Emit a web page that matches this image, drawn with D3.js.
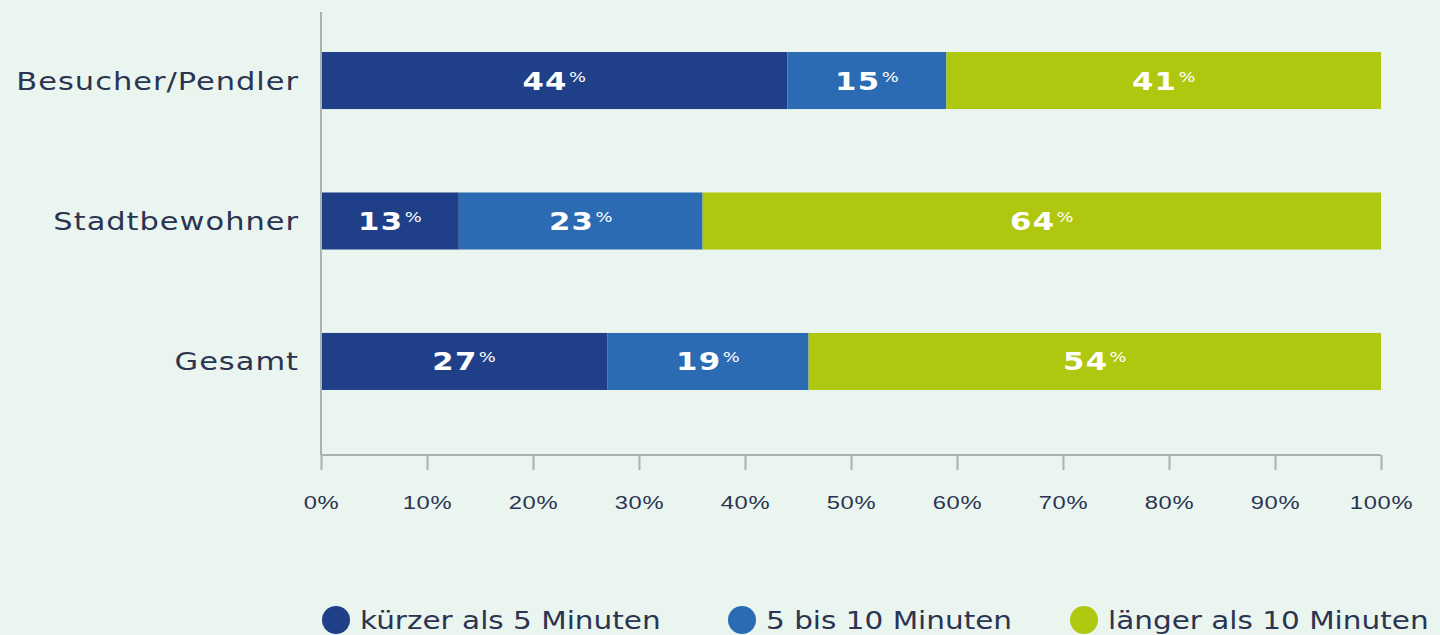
<!DOCTYPE html>
<html>
<head>
<meta charset="utf-8">
<script src="https://cdn.jsdelivr.net/npm/d3@7"></script>
<style>
  body { margin: 0; background: #eaf5ef; }
  svg { display: block; font-family: "DejaVu Sans", sans-serif; }
</style>
</head>
<body>
<div id="chart"></div>
<script>
// categories and series (share in %)
const categories = ['Besucher/Pendler', 'Stadtbewohner', 'Gesamt'];
const seriesNames = ['kürzer als 5 Minuten', '5 bis 10 Minuten', 'länger als 10 Minuten'];
const shortValues = [44, 13, 27];
const midValues = [15, 23, 19];
const longValues = [41, 64, 54];
const xTicks = [0, 10, 20, 30, 40, 50, 60, 70, 80, 90, 100];
const colors = ['#1f3f88', '#2a6bb3', '#afc70f'];

const width = 1440, height = 635;
const textColor = '#2b3450';
const wide = 1.22; // the original font is a wide geometric face

const svg = d3.select('#chart').append('svg')
  .attr('width', width)
  .attr('height', height);

const x = d3.scaleLinear().domain([0, 100]).range([321, 1381]);
const y = d3.scaleBand().domain(categories).range([12, 430])
  .paddingInner(0.594).paddingOuter(0.285);

const rows = categories.map((c, i) => ({cat: c, values: [shortValues[i], midValues[i], longValues[i]]}));
const stack = d3.stack().keys([0, 1, 2]).value((d, k) => d.values[k]);
const layers = stack(rows);

// bars
layers.forEach((layer, k) => {
  svg.append('g').selectAll('rect')
    .data(layer)
    .join('rect')
    .attr('x', d => x(d[0]))
    .attr('y', d => y(d.data.cat))
    .attr('width', d => x(d[1]) - x(d[0]))
    .attr('height', y.bandwidth())
    .attr('fill', colors[k]);

  const lbl = svg.append('g').selectAll('text')
    .data(layer)
    .join('text')
    .attr('transform', d => `translate(${(x(d[0]) + x(d[1])) / 2},${y(d.data.cat) + y.bandwidth() / 2 + 9}) scale(1.28,1)`)
    .attr('text-anchor', 'middle')
    .attr('fill', '#fff')
    .style('font-weight', 'bold')
    .style('font-size', '24px')
    .style('letter-spacing', '1px');
  lbl.append('tspan').text(d => d.data.values[k]);
  lbl.append('tspan').attr('dx', 1).attr('dy', -8).style('font-size', '14px')
    .style('letter-spacing', '0px').style('font-weight', 'normal').text('%');
});

// axes
svg.append('line')
  .attr('x1', 321).attr('x2', 321).attr('y1', 12).attr('y2', 455)
  .attr('stroke', '#a9b3ae').attr('stroke-width', 2);

const xAxis = svg.append('g')
  .attr('transform', 'translate(0,455)')
  .call(d3.axisBottom(x).tickValues(xTicks).tickSize(15).tickFormat(d => d + '%'));
xAxis.select('.domain').attr('stroke', '#a9b3ae').attr('stroke-width', 2).attr('d', `M${x(0)},0H${x(100)}`);
xAxis.selectAll('.tick line').attr('stroke', '#a9b3ae').attr('stroke-width', 2);
xAxis.selectAll('.tick text')
  .attr('y', null).attr('dy', null)
  .attr('transform', 'translate(0,54) scale(1.32,1)')
  .attr('fill', textColor)
  .style('font-size', '18px')
  .style('letter-spacing', '0.5px');

// category labels
svg.append('g').selectAll('text')
  .data(categories)
  .join('text')
  .attr('transform', d => `translate(299,${y(d) + y.bandwidth() / 2 + 9}) scale(${wide},1)`)
  .attr('text-anchor', 'end')
  .attr('fill', textColor)
  .style('font-size', '25px')
  .style('letter-spacing', '0.8px')
  .text(d => d);

// legend
const legendX = [336, 742, 1084];
const legend = svg.append('g').selectAll('g')
  .data(seriesNames)
  .join('g')
  .attr('transform', (d, i) => `translate(${legendX[i]},620)`);
legend.append('circle').attr('r', 14).attr('fill', (d, i) => colors[i]);
legend.append('text')
  .attr('transform', 'translate(24,9) scale(1.18,1)')
  .attr('fill', textColor)
  .style('font-size', '25px')
  .text(d => d);
</script>
</body>
</html>
